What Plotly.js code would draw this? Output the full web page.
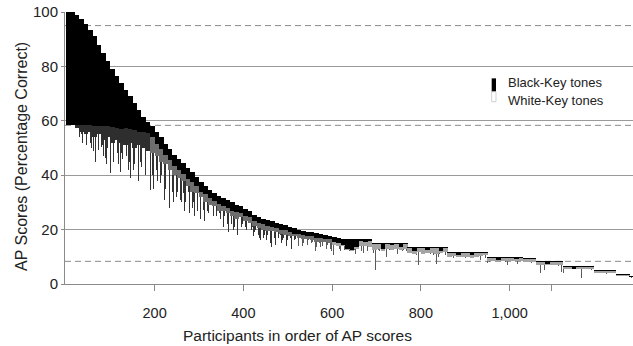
<!DOCTYPE html>
<html><head><meta charset="utf-8">
<script src="https://cdn.plot.ly/plotly-3.0.1.min.js"></script>
<style>html,body{margin:0;padding:0;background:#fff}</style>
</head><body><div id="chart" style="width:633px;height:346px"></div>
<script>
// Participants are grouped in blocks of 10 (in order of AP score)
const GROUP_SIZE = 10;
// Top of each block = overall AP score (% correct)
const groupTop = [
 100,100,99,97.5,95.5,93.5,91,88,85,82,
 79,76.5,74,71.5,69,66.5,64,61.5,59.5,58,
 56,54,51.5,49.5,47.5,46,44.5,42.5,41,39.5,
 37.5,36,34.5,33.5,32.5,31.5,31,30,29,28.5,
 27.5,27,25.5,24.7,24,23.5,23,22.5,22,21.7,
 21,20.5,20,19.5,19.3,19,18.7,18.3,18.2,17.8,
 17.3,16.8,16.5,16.4,16.4,16.4,16.4,16.4,16.4,15,
 15,15,15,15,15,15,15,13.5,13.5,13.5,
 13.5,13.5,13.5,13.5,13.5,13.5,11.9,11.9,11.9,11.9,
 11.9,11.9,11.9,11.9,11.9,10,10,10,10,10,
 10,10,10,9.6,9.6,9.6,8.5,8.5,8.5,8.5,
 8.5,8.5,6.8,6.8,6.8,6.8,6.8,6.8,6.8,5.2,
 5.2,5.2,5.2,5.2,3.8,3.8,3.8,2.8];
// Bottom of the solid black-key part of each block
const groupBlackBase = [
 58.4,58.4,58.4,58.4,58.4,58.4,58.2,58.2,58,58,
 57.8,57.5,57,57.5,57,56.5,56,56,55.5,54,
 51.5,49.5,47.5,45.5,43.5,42,40.5,38.5,37.5,36,
 34,33,31.5,30.5,29.5,28.5,28,27,26.5,26,
 25,24.5,23,22.5,22,21.5,21,20.5,20,20,
 19,18.5,18.5,18,17.5,17.5,17,17,16.5,16.5,
 15.5,15,14.5,13,12.5,13.5,15.8,15.5,15.9,14.6,
 14.6,13,14.6,14.5,14.6,13.5,14.6,13.1,12,13.1,
 13.1,12.5,13.1,13.1,12.2,13.1,11.5,11.5,10.8,11.5,
 11.5,10.5,11.5,11.5,11.5,9.6,9.6,9,9.6,9.6,
 9.6,9.2,9.6,9.2,9.2,9.2,8.1,8.1,7.5,8.1,
 8.1,8.1,6.4,6.4,5.5,6.4,6.4,6.4,6.4,4.8,
 4.8,4.8,4.8,4.8,3.4,3.4,3.4,2.5];
// Lower edge of the dense mixed zone just below the solid part
const groupFringeBase = [
 58.4,58.4,57.5,56,55,56,54,55,53,54,
 52,53,52,51,52,50,51,50,49,48,
 47,45,44,42,40,39,38,36,34,33.5,
 32,30,29,28.5,27,27,26,25,24,24.5,
 23,22.5,21.5,20.5,20,19.5,19.5,19,18.5,18,
 17.5,17.5,17,16.5,16.5,16,15.5,15.5,15.5,15,
 14.5,14,13.8,12.5,12,12.8,13.8,14,13.5,12.5,
 12.8,12.3,13,12.5,12.8,12.5,13,11.5,11,11.8,
 11.2,11.3,11.5,11,11.5,11.8,10,10.2,9.8,10.1,
 10,9.5,10,10.2,10.5,8.5,8.6,8.4,8.5,8.6,
 8.5,8.4,8.6,8,8.1,8,7,6.9,7.1,7,
 7,7.1,5.5,5.6,5.4,5.5,5.6,5.5,5.4,4,
 3.9,4,4,4,3,3,2.9,2.5];
// Individual participants whose bars reach further down
const spikeParticipant = [
 31,38,47,52,58,66,70,74,80,85,89,94,100,104,111,116,123,128,133,138,143,149,152,156,160,165,171,176,183,187,190,
 35,43,55,62,77,83,92,97,107,113,119,126,131,136,141,146,154,163,168,174,180,185,
 195,201,207,213,219,225,230,237,246,252,258,265,270,276,282,287,293,300,310,316,322,329,336,340,346,352,358,364,370,377,383,388,392,398,404,410,415,420,425,431,436,442,447,
 198,204,210,216,222,228,234,240,243,249,255,261,267,273,279,285,290,296,303,307,313,319,325,332,343,349,355,361,367,373,380,386,395,401,407,413,418,423,428,434,439,445,
 455,464,470,476,483,488,494,500,506,512,518,524,530,535,541,547,553,559,565,571,578,584,590,596,603,610,616,622,628,636,643,650,656,663,670,676,683,690,697,
 452,458,461,467,473,479,486,491,497,503,509,515,521,527,533,538,544,550,556,562,568,574,581,587,593,599,606,613,619,625,632,639,646,653,660,666,673,680,686,693,
 704,710,716,723,730,737,744,751,758,765,772,779,786,794,800,809,815,822,829,835,842,849,855,862,870,877,884,890,897,905,911,920,928,935,942,950,958,965,972,980,988,995,1002,1012,1017,1025,1032,1040,1046,1055,1062,1070,1078,1085,1092,1100,1107,1117,1121,1130,1137,1143,1150,1162,1172,1180,1188,1199,1207,1214,1222,1230,1240,1250,1258,1265,
 700,707,713,719,726,733,740,747,754,761,768,775,782,790,797,804,812,818,825,832,839,845,852,858,866,873,880,887,894,901,908,915,924,931,938,946,954,961,968,976,984,991,998,1006,1021,1028,1036,1043,1050,1058,1066,1074,1081,1088,1096,1103,1110,1126,1134,1140,1147,1154,1168,1176,1184,1192,1203,1211,1218,1226,1235,1245,1254,1261,1270,1275];
const spikeLow = [
 54,52,51.1,53,50,45,52,49.3,50.5,47,46.2,50,40.7,47,43.8,48,41.3,46,44,37.6,45,35.2,42,40.1,46,41,43.1,39,38.9,44,34.6,
 55,53.5,52,49,47,51,44,48,45,50,44,48,40,47,42,39,44,38,45,36,40,35,
 40,30.3,38,37,37.6,35,33,31,27.2,34,31,33.3,30,34,29,30.3,32,28,27.2,29,26,28,18.6,25,26,23,25,22,24.7,20,23,20.5,24.7,22,21,23,18.6,21,19,20,16.8,19,18,
 35,42,34,40,31,38,28,34,30,32,28,30,27,31,26,28,25,27,24,29,23,27,22,25,22,24,21,23,19,22,21,18,21,19,20,17,20,17.5,20,18,16,17,
 18,13.7,17,16,18,16,12.5,16,17,15,16.5,14,16,15,13.7,16,15,14,13.7,15,14,16,14.5,13,10.7,14,13,14,12.5,10,13,12.5,14,13,11.3,13,12.5,13.5,5.2,
 16,17.5,15,16,14.5,17,15,17,14,15,13,16,15,17,14,16.5,14.5,13,15.5,12,15,13.5,16,13,15,12,14.5,13.5,12,14,13,12,14,11,13.5,12,14,12,14.5,11.5,
 12.5,13,12,10,12.5,13,11.5,12.5,12,13,12,12,11,7,11.5,8.2,12,11,10.5,7.5,11,12,10.5,10,10.5,9.5,10,10.5,9,10.5,5.3,10,10.5,9,10.5,7.8,9,8.6,8.6,9,8.4,7,8.5,6.4,7.5,8.8,7.5,8.5,6,8.2,7.5,3.9,5,7.5,7.8,6.5,7,4.5,3.9,6,5.8,6.2,5.5,2.1,5.8,6.2,5.5,0.4,4.2,4.5,4.5,4.5,3.5,3,3.2,3,
 13.5,12,13,11,13.5,12,13,11,13,12.5,12,11.5,12.5,10.5,12,11,12.5,10.5,12,11.5,10,12,11,12,10.5,9.5,11,10,10.5,9.5,10.5,9.5,10.5,9,10,9.5,8,8.8,9,8.4,9,8,8.8,8.5,8,7,8.5,8.8,7.8,8,6.8,7.8,7,7.6,7.8,7,6.8,6,5.5,6.2,5.8,6,5.5,6,5.2,5.8,4.6,4.2,3.8,4.6,4,3,3.3,2.8,2.4,2.2];
const referenceLevels = [95, 58.33, 8.33];
const xTickValues = [200, 400, 600, 800, 1000, 1095];
const xTickLabels = ['200', '400', '600', '800', '1,000', ''];
const yTickValues = [0, 20, 40, 60, 80, 100];
const legendLabels = ['Black-Key tones', 'White-Key tones'];
const xAxisTitle = 'Participants in order of AP scores';
const yAxisTitle = 'AP Scores (Percentage Correct)';

const FONT = 'Liberation Sans, Arial, Helvetica, sans-serif';
const centers = groupTop.map((_, i) => i * GROUP_SIZE + GROUP_SIZE / 2);
const groupOf = p => Math.min(groupTop.length - 1, Math.floor(p / GROUP_SIZE));
const spikeTops = spikeParticipant.map(p => groupTop[groupOf(p)]);
const fringeColors = groupTop.map(t => t > 58 ? '#2e2e2e' : (t > 17.5 ? '#6e6e6e' : '#a4a4a4'));
const spikeColors = spikeTops.map(t => t > 20 ? '#333' : '#5a5a5a');

const traces = [
  {type: 'bar', x: spikeParticipant, base: spikeLow,
   y: spikeTops.map((t, i) => t - spikeLow[i]), width: 1.5,
   marker: {color: spikeColors, line: {width: 0}}, hoverinfo: 'skip'},
  {type: 'bar', x: centers, base: groupFringeBase,
   y: groupBlackBase.map((b, i) => b - groupFringeBase[i]), width: GROUP_SIZE * 1.04,
   marker: {color: fringeColors, line: {width: 0}}, hoverinfo: 'skip'},
  {type: 'bar', x: centers, base: groupBlackBase,
   y: groupTop.map((t, i) => t - groupBlackBase[i]), width: GROUP_SIZE * 1.04,
   marker: {color: '#000', line: {width: 0}}, hoverinfo: 'skip', name: legendLabels[0]}
];

const shapes = referenceLevels.map(v => ({
  type: 'line', xref: 'paper', x0: 0, x1: 1, yref: 'y', y0: v, y1: v,
  line: {color: '#8a8a8a', width: 1, dash: '6px,4px'}, layer: 'below'
}));
shapes.push({type: 'rect', xref: 'paper', yref: 'paper', x0: 0.7512, x1: 0.7588, y0: 0.707, y1: 0.756,
  fillcolor: '#000', line: {width: 0}});
shapes.push({type: 'rect', xref: 'paper', yref: 'paper', x0: 0.7512, x1: 0.7588, y0: 0.670, y1: 0.707,
  fillcolor: '#fff', line: {color: '#bbb', width: 0.7}});

const annotations = [
  {text: legendLabels[0], xref: 'paper', yref: 'paper', x: 0.7764, y: 0.740, xanchor: 'left', yanchor: 'middle',
   showarrow: false, font: {family: FONT, size: 13, color: '#222'}},
  {text: legendLabels[1], xref: 'paper', yref: 'paper', x: 0.7764, y: 0.676, xanchor: 'left', yanchor: 'middle',
   showarrow: false, font: {family: FONT, size: 13, color: '#222'}},
  {text: xAxisTitle, xref: 'paper', yref: 'paper', x: 0.410, y: -0.19, xanchor: 'center', yanchor: 'middle',
   showarrow: false, font: {family: FONT, size: 15.5, color: '#222'}},
  {text: yAxisTitle, xref: 'paper', yref: 'paper', x: -0.0757, y: 0.467, xanchor: 'center', yanchor: 'middle',
   textangle: -90, showarrow: false, font: {family: FONT, size: 16, color: '#222'}}
];

const layout = {
  width: 633, height: 346,
  margin: {l: 65, r: 0, t: 12, b: 62, pad: 0},
  paper_bgcolor: '#fff', plot_bgcolor: '#fff',
  barmode: 'overlay', bargap: 0, showlegend: false,
  font: {family: FONT, color: '#222'},
  xaxis: {range: [-2, 1278], tickvals: xTickValues, ticktext: xTickLabels,
    showgrid: false, zeroline: false, showline: true, linecolor: '#8a8a8a', linewidth: 1,
    ticks: 'outside', ticklen: 6, tickcolor: '#8a8a8a', ticklabelstandoff: 10,
    tickfont: {family: FONT, size: 14.5, color: '#222'}},
  yaxis: {range: [0, 100], tickvals: yTickValues, showgrid: true, gridcolor: '#999', gridwidth: 1,
    zeroline: false, showline: true, linecolor: '#8a8a8a', linewidth: 1,
    ticks: 'outside', ticklen: 3, tickcolor: '#8a8a8a',
    tickfont: {family: FONT, size: 15, color: '#222'}},
  shapes: shapes, annotations: annotations
};

Plotly.newPlot('chart', traces, layout, {staticPlot: true, displayModeBar: false});
</script></body></html>
